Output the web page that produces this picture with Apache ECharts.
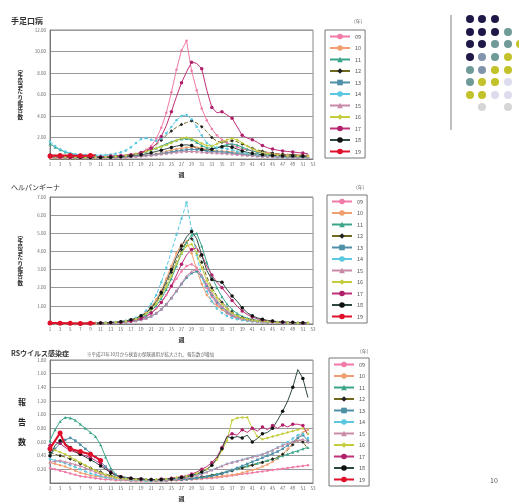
<!DOCTYPE html>
<html>
<head>
<meta charset="utf-8">
<script src="https://cdn.jsdelivr.net/npm/echarts@6/dist/echarts.min.js"></script>
<style>
html, body { margin: 0; padding: 0; background: #fff; }
#main { width: 519px; height: 503px; }
</style>
</head>
<body>
<div id="main"></div>
<script>
// 週 (x axis)
var weeks = ['1','2','3','4','5','6','7','8','9','10','11','12','13','14','15','16','17','18','19','20',
  '21','22','23','24','25','26','27','28','29','30','31','32','33','34','35','36','37','38','39','40',
  '41','42','43','44','45','46','47','48','49','50','51','52','53'];
var years = ['09','10','11','12','13','14','15','16','17','18','19'];

// 手足口病
var hfmd09 = [0.15,0.14,0.13,0.12,0.12,0.11,0.12,0.13,0.14,0.15,0.16,0.18,0.20,
  0.22,0.25,0.30,0.35,0.45,0.60,0.85,1.20,1.90,2.90,4.30,6.20,8.30,
  10.1,11.0,8.2,6.4,4.7,3.6,2.8,2.2,1.8,1.5,1.3,1.1,0.95,
  0.85,0.75,0.65,0.60,0.55,0.50,0.45,0.42,0.40,0.38,0.36,0.35,0.33];
var hfmd10 = [0.10,0.09,0.08,0.08,0.07,0.07,0.07,0.08,0.08,0.09,0.10,0.11,0.12,
  0.13,0.15,0.17,0.20,0.24,0.28,0.33,0.40,0.48,0.58,0.70,0.82,0.92,
  1.00,1.06,1.10,1.08,1.00,0.90,0.80,0.75,0.72,0.70,0.66,0.60,0.52,
  0.45,0.40,0.35,0.32,0.30,0.28,0.26,0.25,0.24,0.23,0.22,0.21,0.20];
var hfmd11 = [1.40,1.10,0.85,0.65,0.50,0.40,0.34,0.30,0.27,0.25,0.24,0.24,0.25,
  0.27,0.30,0.34,0.40,0.48,0.58,0.70,0.85,1.00,1.20,1.40,1.60,1.75,
  1.85,1.90,1.80,1.55,1.25,1.05,0.98,1.05,1.20,1.35,1.40,1.30,1.10,
  0.90,0.75,0.62,0.52,0.45,0.40,0.36,0.33,0.30,0.28,0.26,0.25,0.24];
var hfmd12 = [0.30,0.28,0.25,0.22,0.20,0.18,0.17,0.16,0.16,0.17,0.18,0.20,0.22,
  0.25,0.28,0.32,0.38,0.45,0.55,0.70,0.95,1.30,1.75,2.20,2.60,2.95,
  3.20,3.40,3.55,3.35,3.00,2.55,2.00,1.65,1.55,1.60,1.70,1.60,1.40,
  1.20,1.00,0.85,0.72,0.62,0.55,0.50,0.45,0.42,0.40,0.38,0.36,0.35];
var hfmd13 = [0.20,0.18,0.16,0.14,0.13,0.12,0.11,0.11,0.11,0.12,0.12,0.13,0.14,
  0.15,0.17,0.19,0.22,0.25,0.28,0.32,0.37,0.43,0.50,0.58,0.66,0.74,
  0.80,0.86,0.90,0.88,0.82,0.75,0.70,0.68,0.66,0.62,0.56,0.50,0.44,
  0.38,0.33,0.29,0.26,0.23,0.21,0.19,0.18,0.17,0.16,0.15,0.14,0.14];
var hfmd14 = [1.60,1.20,0.90,0.70,0.55,0.45,0.40,0.38,0.36,0.35,0.36,0.38,0.42,
  0.50,0.62,0.80,1.10,1.50,1.85,1.95,1.80,1.70,1.90,2.40,3.00,3.60,
  4.00,4.10,3.70,3.00,2.20,1.50,1.20,1.05,1.00,0.95,0.85,0.70,0.60,
  0.50,0.42,0.36,0.30,0.26,0.22,0.20,0.18,0.16,0.15,0.14,0.13,0.12];
var hfmd15 = [0.45,0.38,0.32,0.27,0.23,0.20,0.18,0.16,0.15,0.14,0.14,0.14,0.15,
  0.16,0.17,0.19,0.21,0.24,0.27,0.31,0.35,0.40,0.46,0.52,0.58,0.63,
  0.67,0.70,0.70,0.68,0.64,0.60,0.57,0.55,0.53,0.50,0.46,0.42,0.38,
  0.34,0.31,0.28,0.26,0.24,0.22,0.21,0.20,0.19,0.18,0.17,0.17,0.16];
var hfmd16 = [0.25,0.23,0.21,0.19,0.17,0.16,0.15,0.15,0.15,0.16,0.17,0.19,0.21,
  0.24,0.28,0.33,0.40,0.48,0.58,0.70,0.85,1.00,1.15,1.30,1.50,1.75,
  1.92,2.00,1.90,1.70,1.45,1.25,1.20,1.40,1.60,1.80,1.90,1.80,1.50,
  1.20,0.95,0.75,0.60,0.50,0.43,0.38,0.34,0.31,0.29,0.27,0.26,0.25];
var hfmd17 = [0.20,0.18,0.17,0.16,0.15,0.15,0.16,0.17,0.18,0.20,0.22,0.25,0.28,
  0.30,0.33,0.36,0.40,0.48,0.60,0.78,1.00,1.40,2.10,3.10,4.40,5.80,
  7.10,8.10,9.00,8.90,8.40,6.40,4.80,4.30,4.40,4.10,3.80,3.00,2.20,
  1.95,1.80,1.55,1.25,1.05,0.92,0.82,0.75,0.70,0.65,0.60,0.55,0.50];
var hfmd18 = [0.35,0.30,0.26,0.23,0.20,0.18,0.17,0.16,0.15,0.15,0.15,0.16,0.17,
  0.19,0.21,0.24,0.28,0.33,0.40,0.48,0.58,0.70,0.82,0.95,1.08,1.20,
  1.28,1.32,1.25,1.05,0.88,0.82,0.90,1.05,1.15,1.20,1.10,0.92,0.75,
  0.62,0.52,0.45,0.40,0.36,0.33,0.31,0.29,0.28,0.27,0.26,0.25,0.25];
var hfmd19 = [0.28,0.30,0.32,0.33,0.32,0.31,0.30,0.31,0.33,0.34];

// ヘルパンギーナ
var herp09 = [0.05,0.04,0.04,0.03,0.03,0.03,0.03,0.03,0.04,0.04,0.05,0.06,0.07,
  0.08,0.10,0.12,0.15,0.20,0.28,0.40,0.58,0.85,1.20,1.60,2.05,2.50,
  2.90,3.20,3.30,3.10,2.60,2.00,1.50,1.10,0.80,0.58,0.42,0.32,0.25,
  0.20,0.16,0.13,0.11,0.10,0.09,0.08,0.07,0.07,0.06,0.06,0.05,0.05];
var herp10 = [0.06,0.05,0.04,0.04,0.03,0.03,0.03,0.04,0.04,0.05,0.06,0.07,0.08,
  0.10,0.13,0.17,0.23,0.32,0.45,0.65,0.95,1.35,1.85,2.50,3.20,3.90,
  4.40,4.55,3.90,3.00,2.20,1.60,1.25,1.00,0.80,0.62,0.48,0.38,0.30,
  0.24,0.20,0.17,0.14,0.12,0.10,0.09,0.08,0.07,0.07,0.06,0.06,0.05];
var herp11 = [0.05,0.04,0.04,0.03,0.03,0.03,0.03,0.03,0.04,0.04,0.05,0.06,0.07,
  0.09,0.11,0.14,0.19,0.26,0.36,0.50,0.72,1.00,1.40,1.90,2.50,3.20,
  3.90,4.50,4.90,5.00,4.30,3.40,2.60,2.00,1.50,1.10,0.80,0.58,0.42,
  0.32,0.25,0.20,0.16,0.13,0.11,0.10,0.09,0.08,0.07,0.06,0.06,0.05];
var herp12 = [0.06,0.05,0.04,0.04,0.03,0.03,0.03,0.04,0.04,0.05,0.06,0.07,0.08,
  0.10,0.12,0.16,0.22,0.30,0.42,0.60,0.85,1.20,1.65,2.20,2.85,3.50,
  4.10,4.55,4.70,4.20,3.40,2.60,2.00,1.55,1.20,0.90,0.66,0.48,0.36,
  0.28,0.22,0.18,0.15,0.12,0.10,0.09,0.08,0.07,0.07,0.06,0.06,0.05];
var herp13 = [0.04,0.04,0.03,0.03,0.03,0.02,0.02,0.03,0.03,0.03,0.04,0.05,0.06,
  0.07,0.08,0.10,0.13,0.17,0.23,0.31,0.42,0.58,0.80,1.08,1.42,1.80,
  2.20,2.55,2.80,2.90,2.60,2.10,1.60,1.20,0.90,0.66,0.48,0.36,0.28,
  0.22,0.18,0.15,0.12,0.10,0.09,0.08,0.07,0.06,0.06,0.05,0.05,0.04];
var herp14 = [0.05,0.04,0.04,0.03,0.03,0.03,0.03,0.04,0.04,0.05,0.06,0.07,0.09,
  0.11,0.14,0.18,0.25,0.35,0.50,0.75,1.10,1.60,2.30,3.10,4.00,4.90,
  5.80,6.70,5.20,3.80,2.60,1.80,1.25,0.85,0.60,0.44,0.33,0.26,0.21,
  0.17,0.14,0.12,0.10,0.09,0.08,0.07,0.06,0.06,0.05,0.05,0.05,0.04];
var herp15 = [0.04,0.04,0.03,0.03,0.03,0.02,0.02,0.03,0.03,0.03,0.04,0.05,0.06,
  0.07,0.09,0.11,0.14,0.18,0.24,0.32,0.44,0.60,0.82,1.10,1.45,1.85,
  2.25,2.65,2.90,3.00,2.70,2.20,1.70,1.30,0.98,0.72,0.52,0.38,0.29,
  0.23,0.18,0.15,0.12,0.10,0.09,0.08,0.07,0.06,0.06,0.05,0.05,0.04];
var herp16 = [0.05,0.04,0.04,0.03,0.03,0.03,0.03,0.03,0.04,0.04,0.05,0.06,0.07,
  0.09,0.11,0.15,0.20,0.28,0.40,0.56,0.80,1.12,1.55,2.05,2.65,3.30,
  3.90,4.30,4.40,3.90,3.10,2.40,1.85,1.45,1.10,0.82,0.60,0.44,0.33,
  0.26,0.21,0.17,0.14,0.12,0.10,0.09,0.08,0.07,0.06,0.06,0.05,0.05];
var herp17 = [0.05,0.04,0.04,0.03,0.03,0.03,0.03,0.03,0.04,0.04,0.05,0.06,0.07,
  0.08,0.10,0.13,0.17,0.23,0.31,0.43,0.60,0.85,1.18,1.60,2.10,2.70,
  3.30,3.80,4.10,4.20,3.80,3.20,2.70,2.30,2.00,1.65,1.30,0.98,0.72,
  0.52,0.38,0.29,0.22,0.18,0.15,0.12,0.10,0.09,0.08,0.07,0.06,0.06];
var herp18 = [0.06,0.05,0.04,0.04,0.03,0.03,0.03,0.04,0.04,0.05,0.06,0.07,0.08,
  0.10,0.13,0.17,0.23,0.32,0.45,0.62,0.88,1.25,1.75,2.35,3.00,3.70,
  4.30,4.80,5.10,4.70,3.80,2.95,2.45,2.35,2.30,1.90,1.55,1.25,0.90,
  0.62,0.45,0.34,0.26,0.20,0.16,0.13,0.11,0.10,0.09,0.08,0.07,0.06];
var herp19 = [0.05,0.05,0.04,0.04,0.04,0.03,0.03,0.03,0.04,0.04];

// RSウイルス感染症
var rs09 = [0.22,0.20,0.18,0.16,0.14,0.12,0.10,0.09,0.08,0.07,0.06,0.05,0.05,
  0.04,0.04,0.04,0.03,0.03,0.03,0.03,0.03,0.03,0.03,0.03,0.04,0.04,
  0.04,0.05,0.05,0.06,0.06,0.07,0.07,0.08,0.09,0.10,0.11,0.12,0.13,
  0.14,0.15,0.16,0.17,0.18,0.19,0.20,0.21,0.22,0.23,0.24,0.25,0.26];
var rs10 = [0.30,0.28,0.26,0.24,0.21,0.18,0.15,0.13,0.11,0.10,0.09,0.08,0.07,
  0.06,0.05,0.05,0.04,0.04,0.04,0.03,0.03,0.03,0.03,0.04,0.04,0.04,
  0.05,0.05,0.06,0.06,0.07,0.08,0.08,0.09,0.10,0.11,0.12,0.13,0.15,
  0.17,0.19,0.21,0.24,0.27,0.31,0.36,0.42,0.50,0.58,0.66,0.74,0.78];
var rs11 = [0.62,0.78,0.90,0.96,0.95,0.92,0.86,0.80,0.74,0.68,0.56,0.38,0.22,
  0.12,0.09,0.08,0.07,0.06,0.06,0.05,0.05,0.05,0.05,0.05,0.05,0.05,
  0.06,0.06,0.07,0.08,0.09,0.10,0.12,0.13,0.15,0.17,0.19,0.21,0.23,
  0.25,0.27,0.29,0.31,0.33,0.35,0.37,0.40,0.42,0.45,0.47,0.50,0.52];
var rs12 = [0.45,0.42,0.40,0.38,0.35,0.32,0.28,0.25,0.22,0.19,0.16,0.13,0.11,
  0.09,0.08,0.07,0.06,0.06,0.05,0.05,0.05,0.05,0.05,0.05,0.05,0.06,
  0.06,0.07,0.07,0.08,0.09,0.10,0.11,0.12,0.14,0.16,0.18,0.20,0.22,
  0.24,0.26,0.28,0.30,0.32,0.35,0.38,0.42,0.48,0.56,0.64,0.60,0.50];
var rs13 = [0.40,0.50,0.58,0.63,0.66,0.62,0.56,0.50,0.44,0.38,0.31,0.24,0.17,
  0.12,0.09,0.07,0.06,0.05,0.05,0.05,0.04,0.04,0.04,0.04,0.05,0.05,
  0.05,0.06,0.06,0.07,0.08,0.09,0.10,0.12,0.14,0.16,0.19,0.22,0.25,
  0.28,0.31,0.34,0.37,0.40,0.43,0.46,0.50,0.55,0.60,0.66,0.70,0.62];
var rs14 = [0.35,0.33,0.31,0.29,0.26,0.23,0.20,0.17,0.14,0.12,0.10,0.08,0.07,
  0.06,0.05,0.05,0.04,0.04,0.04,0.03,0.03,0.04,0.04,0.05,0.06,0.07,
  0.08,0.09,0.10,0.12,0.14,0.16,0.19,0.22,0.25,0.28,0.30,0.32,0.34,
  0.36,0.38,0.40,0.42,0.45,0.48,0.52,0.56,0.60,0.65,0.70,0.72,0.66];
var rs15 = [0.30,0.32,0.33,0.31,0.29,0.27,0.25,0.22,0.19,0.16,0.13,0.11,0.09,
  0.08,0.07,0.06,0.06,0.05,0.05,0.05,0.05,0.05,0.05,0.05,0.06,0.06,
  0.07,0.08,0.09,0.11,0.13,0.16,0.19,0.22,0.25,0.28,0.30,0.32,0.34,
  0.36,0.38,0.40,0.42,0.45,0.48,0.52,0.55,0.58,0.60,0.62,0.64,0.60];
var rs16 = [0.50,0.48,0.45,0.42,0.38,0.34,0.30,0.26,0.22,0.18,0.15,0.12,0.10,
  0.08,0.07,0.06,0.06,0.05,0.05,0.05,0.05,0.05,0.06,0.06,0.07,0.08,
  0.09,0.10,0.12,0.14,0.17,0.20,0.26,0.34,0.48,0.62,0.92,0.95,0.96,
  0.96,0.80,0.68,0.64,0.66,0.68,0.70,0.72,0.74,0.76,0.78,0.80,0.72];
var rs17 = [0.55,0.60,0.58,0.52,0.48,0.45,0.42,0.40,0.37,0.33,0.28,0.22,0.16,
  0.12,0.09,0.08,0.07,0.06,0.06,0.05,0.05,0.05,0.06,0.06,0.07,0.08,
  0.09,0.11,0.13,0.16,0.20,0.24,0.30,0.38,0.52,0.68,0.72,0.70,0.78,
  0.74,0.80,0.76,0.82,0.78,0.84,0.80,0.85,0.82,0.86,0.86,0.84,0.70];
var rs18 = [0.40,0.55,0.62,0.58,0.52,0.46,0.42,0.38,0.34,0.30,0.25,0.20,0.15,
  0.11,0.09,0.08,0.07,0.06,0.06,0.05,0.05,0.05,0.05,0.06,0.06,0.07,
  0.08,0.09,0.11,0.13,0.16,0.20,0.26,0.36,0.50,0.68,0.66,0.68,0.66,
  0.70,0.60,0.65,0.72,0.74,0.80,0.92,1.05,1.20,1.40,1.66,1.53,1.25];
var rs19 = [0.50,0.62,0.73,0.56,0.50,0.48,0.46,0.44,0.42,0.38,0.33];

var hfmdData = [hfmd09, hfmd10, hfmd11, hfmd12, hfmd13, hfmd14, hfmd15, hfmd16, hfmd17, hfmd18, hfmd19];
var herpData = [herp09, herp10, herp11, herp12, herp13, herp14, herp15, herp16, herp17, herp18, herp19];
var rsData = [rs09, rs10, rs11, rs12, rs13, rs14, rs15, rs16, rs17, rs18, rs19];

// look of each year
var lineColors = ['#f07aa8','#f0a070','#3aa58a','#6e6a20','#4f8fa8','#5cc8e0','#c88aa8','#c4cc3c','#c0307a','#2e4a40','#e0102a'];
var markColors = ['#f07aa8','#f0a070','#3aa58a','#222222','#4f8fa8','#5cc8e0','#c88aa8','#c4cc3c','#b0206a','#111111','#e0102a'];
var symbols = ['circle','circle','triangle','diamond','rect','circle','triangle','diamond','circle','circle','circle'];
var symbolSizes = [2.5,2.5,3,3.5,2.5,2.5,3,3,3.5,3.5,5];
var dashes = ['solid','solid','solid','dashed','solid','dashed','solid','solid','solid','solid','solid'];

var font = '"Noto Sans CJK JP", "Noto Sans", sans-serif';

var panels = [
  { data: hfmdData, grid: { left: 50, top: 30, width: 263, height: 129 }, max: 12, interval: 2,
    yName: '定\n点\n当\nた\nり\n報\n告\n数', yNameSize: 5.5, yNameLH: 6.3, yNameGap: 27,
    legend: { left: 325, top: 30 } },
  { data: herpData, grid: { left: 50, top: 197, width: 263, height: 127 }, max: 7, interval: 1,
    yName: '定\n点\n当\nた\nり\n報\n告\n数', yNameSize: 5.5, yNameLH: 6.3, yNameGap: 27,
    legend: { left: 327, top: 195 } },
  { data: rsData, grid: { left: 50, top: 360, width: 263, height: 129 }, max: 1.8, interval: 0.2,
    yName: '報\n告\n数', yNameSize: 8, yNameLH: 20, yNameGap: 24,
    legend: { left: 329, top: 358 } }
];

var grids = [], xAxes = [], yAxes = [], legends = [], series = [];
panels.forEach(function (p, c) {
  grids.push(Object.assign({ show: true, borderColor: '#888', borderWidth: 1, backgroundColor: '#fff' }, p.grid));
  xAxes.push({
    type: 'category', gridIndex: c, data: weeks, boundaryGap: false,
    name: '週', nameLocation: 'middle', nameGap: 13,
    nameTextStyle: { fontSize: 6, fontWeight: 'bold', color: '#222', fontFamily: font },
    axisLine: { lineStyle: { color: '#777' } },
    axisTick: { show: false },
    axisLabel: { interval: 1, fontSize: 4.5, color: '#666', margin: 3, fontFamily: font },
    splitLine: { show: false }
  });
  yAxes.push({
    type: 'value', gridIndex: c, min: 0, max: p.max, interval: p.interval,
    name: p.yName, nameLocation: 'middle', nameRotate: 0, nameGap: p.yNameGap,
    nameTextStyle: { fontSize: p.yNameSize, lineHeight: p.yNameLH, fontWeight: 'bold', color: '#222', fontFamily: font },
    axisLine: { show: true, lineStyle: { color: '#777' } },
    axisTick: { show: false },
    axisLabel: { showMinLabel: false, fontSize: 4.5, color: '#666', margin: 4, fontFamily: font,
      formatter: function (v) { return v.toFixed(2); } },
    splitLine: { lineStyle: { color: '#9a9a9a', width: 1 } }
  });
  legends.push({
    data: years, left: p.legend.left, top: p.legend.top, orient: 'vertical',
    padding: [3, 4, 3, 4], itemGap: 4.5, itemWidth: 20, itemHeight: 7,
    borderColor: '#777', borderWidth: 1, backgroundColor: '#fff',
    selectedMode: false,
    textStyle: { fontSize: 5.5, lineHeight: 7, color: '#555', fontFamily: font }
  });
  p.data.forEach(function (arr, i) {
    series.push({
      name: years[i], type: 'line', xAxisIndex: c, yAxisIndex: c, data: arr,
      symbol: symbols[i], symbolSize: symbolSizes[i], showSymbol: true,
      lineStyle: { color: lineColors[i], width: i === 10 ? 2 : 1, type: dashes[i] },
      itemStyle: { color: markColors[i] },
      z: i === 10 ? 4 : 2, animation: false
    });
  });
});

// decoration at top right
var dotColors = {
  N: '#1e1848', T: '#6f9a98', S: '#8094ac', Y: '#c2c22a', L: '#dcdcee', G: '#d6d6d6'
};
var dotRows = ['NNN__', 'NNNT_', 'NNTTY', 'NSTY_', 'TSYY_', 'TYYL_', 'YYLL_', '_G_G_'];
var dotX = [470, 482, 495, 508, 520];
var dotY = [19, 32, 44, 57, 70, 82, 95, 107];
var graphics = [
  { type: 'line', shape: { x1: 451, y1: 15, x2: 451, y2: 130 }, style: { stroke: '#aaa', lineWidth: 1.5 } },
  { type: 'text', left: 490, top: 477, style: { text: '10', fontSize: 7, fill: '#555', fontFamily: font } },
  { type: 'text', left: 354, top: 19, style: { text: '(年)', fontSize: 5, fill: '#666', fontFamily: font } },
  { type: 'text', left: 356, top: 185, style: { text: '(年)', fontSize: 5, fill: '#666', fontFamily: font } },
  { type: 'text', left: 360, top: 349, style: { text: '(年)', fontSize: 5, fill: '#666', fontFamily: font } }
];
dotRows.forEach(function (row, r) {
  row.split('').forEach(function (k, col) {
    if (k === '_') return;
    graphics.push({ type: 'circle', shape: { cx: dotX[col], cy: dotY[r], r: 4 }, style: { fill: dotColors[k] } });
  });
});

var chart = echarts.init(document.getElementById('main'));
chart.setOption({
  backgroundColor: '#fff',
  animation: false,
  title: [
    { text: '手足口病', left: 6, top: 12, textStyle: { fontSize: 8, fontWeight: 'bold', color: '#333', fontFamily: font } },
    { text: 'ヘルパンギーナ', left: 6, top: 179, textStyle: { fontSize: 7, fontWeight: 'normal', color: '#333', fontFamily: font } },
    { text: 'RSウイルス感染症', left: 6, top: 345, textStyle: { fontSize: 7, fontWeight: 'bold', color: '#333', fontFamily: font } },
    { text: '※平成23年10月から検査の保険適用が拡大され、報告数が増加', left: 82, top: 347,
      textStyle: { fontSize: 4.5, fontWeight: 'normal', color: '#666', fontFamily: font } }
  ],
  grid: grids,
  xAxis: xAxes,
  yAxis: yAxes,
  legend: legends,
  series: series,
  graphic: graphics
});
</script>
</body>
</html>
